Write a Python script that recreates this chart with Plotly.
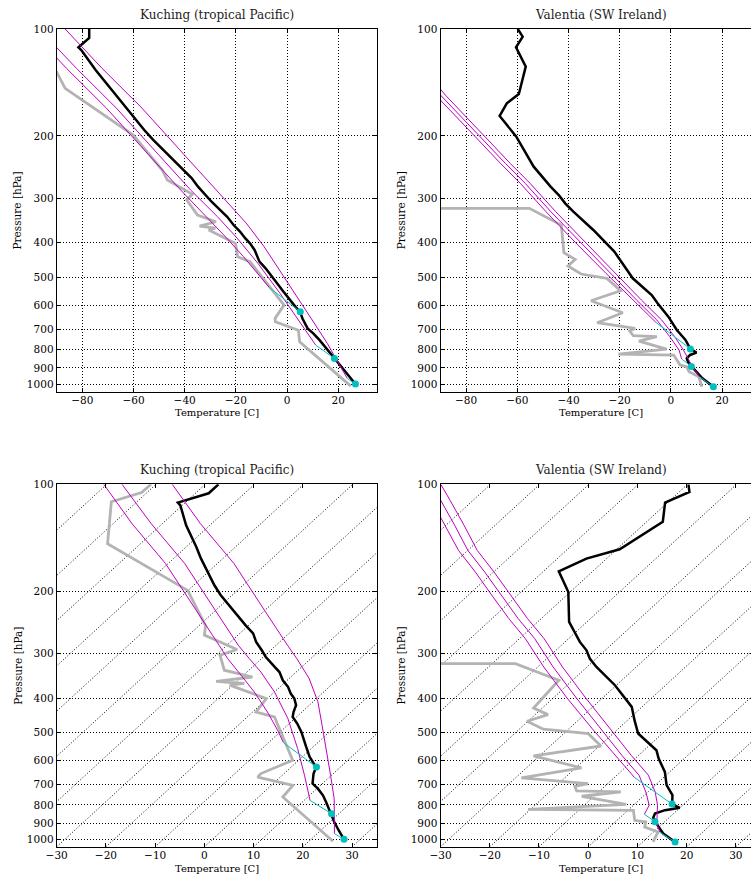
import numpy as np
import plotly.graph_objects as go

# ---------------- data ----------------
SKEW = 78.5        # deg C of skew per decade of pressure (bottom panels)
P_BOTTOM = 1050.0  # pressure at the bottom of the plots
P_TOP = 100.0

p_ticks = [100, 200, 300, 400, 500, 600, 700, 800, 900, 1000]

# Kuching temperature
kuc_t_p = [100, 106, 112.6, 114.6, 130.5, 145.3, 150, 162, 182, 192.5, 205, 214.5, 234,
           250, 263, 278, 293.5, 306.5, 327, 338, 356.5, 372, 389, 401.5, 419, 438, 452,
           472, 498.5, 526, 549.5, 586, 606, 627, 653.5, 697, 720, 752, 785, 820, 847,
           894, 943, 1000]
kuc_t = [-77.3, -77.3, -81.5, -80.4, -74.8, -69.5, -68.0, -64.4, -58.7, -55.8, -52.4, -49.7,
         -44.4, -40.5, -37.3, -34.8, -31.8, -29.5, -25.5, -23.4, -20.9, -18.4, -16.3, -14.5,
         -12.7, -11.7, -10.8, -8.4, -5.7, -3.4, -1.4, 1.5, 3.3, 5.1, 6.0, 8.0, 10.2, 12.7,
         14.8, 16.8, 18.4, 20.9, 23.6, 26.7]
# Kuching dew point
kuc_td_p = [100, 105.5, 112, 147, 199, 250, 266, 292, 303, 334, 349, 359, 364, 368, 401.5,
            438, 452, 599, 653, 668, 705, 760, 1013]
kuc_td = [-91.0, -91.1, -95.2, -86.7, -60.1, -48.7, -46.8, -37.0, -39.2, -35.0, -27.8, -34.2,
          -28.0, -30.6, -20.2, -19.3, -14.5, -1.2, -4.7, -4.6, 4.4, 4.9, 24.9]
# Kuching parcels: moist part (magenta)
kuc_m1_p = [964, 768, 660, 555, 477, 410, 352, 310, 284, 226, 167, 129, 100]
kuc_m1_t = [23.5, 15.7, 9.8, 2.9, -3.0, -9.0, -16.0, -22.8, -27.7, -40.2, -56.7, -72.3, -86.7]
kuc_m2_p = [777, 660, 555, 457, 384.6, 337.8, 309.7, 284, 226, 167, 129, 100]
kuc_m2_t = [11.2, 4.5, -2.8, -11.4, -20.0, -27.2, -32.5, -37.7, -50.2, -66.7, -82.3, -96.9]
kuc_m3_p = [534, 493, 438, 384.6, 345, 309.7, 284, 226, 167, 129, 100]
kuc_m3_t = [-7.0, -10.9, -17.0, -24.1, -30.5, -36.9, -41.6, -54.1, -70.6, -86.2, -100.6]
# Kuching parcels: dry part (cyan), start point first
kuc_c_p = [[1000, 964], [847, 777], [626, 534]]
kuc_c_t = [[26.7, 23.5], [18.5, 11.2], [5.15, -7.0]]

# Valentia temperature
val_t_p = [100, 105.1, 112.6, 127.6, 152.4, 161.9, 175.8, 196.7, 201, 244.2, 252.2, 278,
           293.5, 309.7, 327, 368.1, 423.6, 461.8, 503.6, 561.2, 592.4, 645.8, 704.1, 751.2,
           795.6, 815.6, 827.9, 846.1, 870, 890, 912.6, 963.4, 1018]
val_t = [-59.8, -57.9, -60.5, -56.7, -59.4, -64.1, -66.9, -61.5, -60.4, -53.6, -52.0, -47.0,
         -43.8, -41.3, -38.1, -30.3, -22.1, -18.6, -14.9, -7.5, -5.2, -1.0, 2.3, 5.7,
         7.6, 10.0, 7.5, 6.2, 6.8, 8.2, 9.3, 12.3, 16.6]
# Valentia dew point (no humidity above 320 hPa)
val_td_p = [100, 320, 320, 356.5, 426.6, 445.5, 465, 489.8, 504, 546, 582.4, 629.5, 671.6,
            696.9, 709, 730.8, 735.6, 756.5, 796.9, 823.2, 828.5, 884.3, 894, 923.3, 953.5,
            1017.4]
val_td = [-150, -150, -55.3, -42.8, -41.8, -37.4, -40.2, -35.1, -25.0, -19.7, -31.2, -18.8,
          -28.8, -14.0, -16.1, -14.7, -5.5, -12.5, -1.7, -20.5, 1.1, 3.6, 6.2, 7.1, 10.9, 12.1]
# Valentia parcels: moist part (magenta)
val_m1_p = [955, 900, 850, 802, 736, 660, 580, 488, 400, 327, 272.1, 238.9, 205.4, 176.6,
            153.5, 130.5, 110.9, 100]
val_m1_t = [11.3, 8.7, 6.8, 4.9, 1.5, -3.6, -11.5, -21.7, -33.4, -45.0, -55.0, -62.8, -71.4,
            -79.9, -88.1, -96.3, -104.7, -110.1]
val_m2_p = [850, 802, 736, 660, 580, 488, 400, 327, 272.1, 238.9, 205.4, 176.6, 153.5, 130.5,
            110.9, 100]
val_m2_t = [4.2, 3.2, -0.4, -5.5, -13.4, -23.6, -35.3, -46.9, -56.9, -64.7, -73.3, -81.8,
            -90.0, -98.2, -106.6, -112.0]
val_m3_p = [670, 580, 488, 400, 327, 272.1, 238.9, 205.4, 176.6, 153.5, 130.5, 110.9, 100]
val_m3_t = [-5.9, -14.8, -25.3, -37.2, -48.8, -58.8, -66.6, -75.2, -83.7, -91.9, -100.1,
            -108.5, -113.9]
# Valentia parcels: dry part (cyan)
val_c_p = [[1018, 955], [892, 850], [796, 670]]
val_c_t = [[16.6, 11.3], [8.0, 4.2], [7.6, -5.9]]

isotherms = list(range(-130, 50, 10))

# ---------------- layout geometry (pixels) ----------------
W, H = 751, 874
FONT = "DejaVu Serif"
X_LEFT = (56.7, 376.7)
X_RIGHT = (440.5, 760.5)      # right panels run past the window edge
Y_TOP = (29.0, 391.6)
Y_BOT = (484.3, 846.8)
TOP_XR = (-90.0, 35.0)
BOT_XR = (-30.0, 35.0)

BLACK = "#000000"
GRAY = "#b3b3b3"
MAG = "#bf00bf"
CYAN = "#00bfbf"
DOT = "1px,2px"


def skew_x(t, p):
    return np.asarray(t, float) + SKEW * np.log10(P_BOTTOM / np.asarray(p, float))


fig = go.Figure()


def add(panel, t, p, color, width, skewed, mode="lines", msize=0):
    x = skew_x(t, p) if skewed else np.asarray(t, float)
    xa = "x" if panel == 1 else f"x{panel}"
    ya = "y" if panel == 1 else f"y{panel}"
    kw = dict(x=x, y=p, xaxis=xa, yaxis=ya, showlegend=False, hoverinfo="skip", mode=mode)
    if mode == "lines":
        kw["line"] = dict(color=color, width=width)
    else:
        kw["marker"] = dict(color=color, size=msize, line=dict(width=0))
    fig.add_trace(go.Scatter(**kw))


stations = [
    dict(t=(kuc_t, kuc_t_p), td=(kuc_td, kuc_td_p),
         m=[(kuc_m1_t, kuc_m1_p), (kuc_m2_t, kuc_m2_p), (kuc_m3_t, kuc_m3_p)],
         c=list(zip(kuc_c_t, kuc_c_p)), title="Kuching (tropical Pacific)"),
    dict(t=(val_t, val_t_p), td=(val_td, val_td_p),
         m=[(val_m1_t, val_m1_p), (val_m2_t, val_m2_p), (val_m3_t, val_m3_p)],
         c=list(zip(val_c_t, val_c_p)), title="Valentia (SW Ireland)"),
]

for panel in (1, 2, 3, 4):
    st = stations[(panel - 1) % 2]
    skewed = panel >= 3
    if skewed:
        for T in isotherms:
            fig.add_trace(go.Scatter(
                x=skew_x([T, T], [P_BOTTOM, P_TOP]), y=[P_BOTTOM, P_TOP],
                xaxis=f"x{panel}", yaxis=f"y{panel}", mode="lines",
                line=dict(color=BLACK, width=1.0, dash=DOT),
                showlegend=False, hoverinfo="skip"))
    add(panel, st["td"][0], st["td"][1], GRAY, 2.8, skewed)
    add(panel, st["t"][0], st["t"][1], BLACK, 2.5, skewed)
    for mt, mp in st["m"]:
        add(panel, mt, mp, MAG, 1.0, skewed)
    for ct, cp in st["c"]:
        add(panel, ct, cp, CYAN, 1.0, skewed)
    add(panel, [c[0][0] for c in st["c"]], [c[1][0] for c in st["c"]], CYAN, 0, skewed,
        mode="markers", msize=7)

tickfont = dict(family=FONT, size=10.5, color="#000000")


def xaxis_cfg(xpix, xr, top):
    x0, x1 = xpix
    scale = (x1 - x0) / (xr[1] - xr[0])
    vis1 = min(x1, W)
    rng = [xr[0], xr[0] + (vis1 - x0) / scale]
    cfg = dict(domain=[x0 / W, vis1 / W], range=rng, showline=True, linecolor=BLACK,
               linewidth=1, mirror="ticks", ticks="inside", ticklen=4, tickcolor=BLACK,
               tickfont=tickfont, zeroline=False, fixedrange=True, automargin=False,
               ticklabelstandoff=-1)
    if top:
        cfg.update(tickvals=[-80, -60, -40, -20, 0, 20], showgrid=True, gridcolor=BLACK,
                   gridwidth=1.0, griddash=DOT)
    else:
        cfg.update(tickvals=[-30, -20, -10, 0, 10, 20, 30], showgrid=False)
    return cfg


def yaxis_cfg(ypix, right):
    y0, y1 = ypix
    return dict(domain=[1 - y1 / H, 1 - y0 / H], type="log",
                range=[np.log10(P_BOTTOM), np.log10(P_TOP)],
                tickvals=p_ticks, ticktext=[str(v) for v in p_ticks],
                showline=True, linecolor=BLACK, linewidth=1,
                mirror=False if right else "ticks", ticks="inside", ticklen=4,
                tickcolor=BLACK, tickfont=tickfont, showgrid=True, gridcolor=BLACK,
                gridwidth=1.0, griddash=DOT, zeroline=False, fixedrange=True,
                automargin=False)


layout = dict(width=W, height=H, margin=dict(l=0, r=0, t=0, b=0, pad=0), autosize=False,
              paper_bgcolor="white", plot_bgcolor="white", showlegend=False,
              font=dict(family=FONT, color="#000000"))
panels = {1: (X_LEFT, Y_TOP, TOP_XR, True, False), 2: (X_RIGHT, Y_TOP, TOP_XR, True, True),
          3: (X_LEFT, Y_BOT, BOT_XR, False, False), 4: (X_RIGHT, Y_BOT, BOT_XR, False, True)}
for k, (xp, yp, xr, top, right) in panels.items():
    sx = "" if k == 1 else str(k)
    layout[f"xaxis{sx}"] = xaxis_cfg(xp, xr, top)
    layout[f"yaxis{sx}"] = yaxis_cfg(yp, right)
    layout[f"xaxis{sx}"]["anchor"] = f"y{sx}"
    layout[f"yaxis{sx}"]["anchor"] = f"x{sx}"
fig.update_layout(**layout)

ann = []
for k, (xp, yp, xr, top, right) in panels.items():
    st = stations[(k - 1) % 2]
    cx = (xp[0] + xp[1]) / 2
    ann.append(dict(text=st["title"], x=cx / W, y=1 - (yp[0] - 14) / H, xref="paper",
                    yref="paper", showarrow=False, xanchor="center", yanchor="middle",
                    font=dict(family=FONT, size=12, color="#222222")))
    ann.append(dict(text="Temperature [C]", x=cx / W, y=1 - (yp[1] + 21.3) / H, xref="paper",
                    yref="paper", showarrow=False, xanchor="center", yanchor="middle",
                    font=dict(family=FONT, size=10, color="#000000")))
    ann.append(dict(text="Pressure [hPa]", x=(xp[0] - 39.5) / W,
                    y=1 - ((yp[0] + yp[1]) / 2) / H, xref="paper", yref="paper",
                    showarrow=False, textangle=-90, xanchor="center", yanchor="middle",
                    font=dict(family=FONT, size=10.5, color="#000000")))
fig.update_layout(annotations=ann)

fig.write_html(
    "out.html",
    post_script="document.body.style.margin='0px';document.body.style.padding='0px';"
                "document.documentElement.style.overflow='hidden';",
)
